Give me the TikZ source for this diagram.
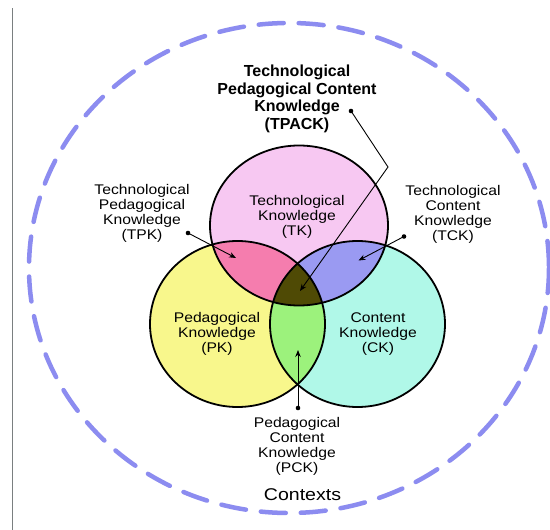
\documentclass[tikz,border=0pt]{standalone}
\usepackage{fontspec}
\setmainfont{Liberation Sans}
\usetikzlibrary{arrows.meta}
\definecolor{tkcol}{HTML}{F7C8F2}
\definecolor{pkcol}{HTML}{F8F78C}
\definecolor{ckcol}{HTML}{B0F8E8}
\definecolor{tpkcol}{HTML}{F57DAE}
\definecolor{tckcol}{HTML}{9A9AF2}
\definecolor{pckcol}{HTML}{9CF27C}
\definecolor{tpackcol}{HTML}{4F4A05}
\definecolor{ctxcol}{HTML}{8C8CF0}
\definecolor{framecol}{HTML}{7A7F80}
\begin{document}
\begin{tikzpicture}[x=1pt,y=-1pt,
  lbl/.style={font=\fontsize{14}{15}\selectfont, align=center, xscale=1.12, inner sep=0pt},
  ttl/.style={font=\fontsize{16}{17.5}\selectfont\bfseries, align=center, inner sep=0pt},
  ctxlbl/.style={font=\fontsize{17}{20}\selectfont, xscale=1.15, inner sep=0pt, anchor=base},
  ring/.style={line width=1.8pt},
  conn/.style={line width=0.9pt, -{Stealth[length=7pt,width=5.5pt]}},
  dotmark/.style={fill=black},
  tkshape/.style={x radius=89, y radius=80},
  ckshape/.style={x radius=87.5, y radius=83}
]
\useasboundingbox (0,0) rectangle (550,530);
\fill[white] (0,0) rectangle (550,530);

% frame line at left
\draw[framecol, line width=1pt] (12.5,8) -- (12.5,530);

% centres
\coordinate (ctx) at (289,268);
\coordinate (tk) at (299,225.5);
\coordinate (pk) at (237.5,324);
\coordinate (ck) at (357.5,324);

% contexts dashed ring
\draw[ctxcol, line width=4.5pt, line cap=round, dash pattern=on 25pt off 15pt]
  (ctx) ellipse [x radius=260, y radius=245];

% base fills
\fill[tkcol] (tk) ellipse [tkshape];
\fill[pkcol] (pk) ellipse [ckshape];
\fill[ckcol] (ck) ellipse [ckshape];
% pairwise overlaps
\begin{scope}
  \clip (tk) ellipse [tkshape];
  \fill[tpkcol] (pk) ellipse [ckshape];
  \fill[tckcol] (ck) ellipse [ckshape];
\end{scope}
\begin{scope}
  \clip (pk) ellipse [ckshape];
  \fill[pckcol] (ck) ellipse [ckshape];
\end{scope}
% triple overlap
\begin{scope}
  \clip (tk) ellipse [tkshape];
  \clip (pk) ellipse [ckshape];
  \fill[tpackcol] (ck) ellipse [ckshape];
\end{scope}
% outlines
\draw[ring] (tk) ellipse [tkshape];
\draw[ring] (pk) ellipse [ckshape];
\draw[ring] (ck) ellipse [ckshape];

% circle texts
\node[lbl] (tktext) at (297,216.5) {Technological\\Knowledge\\(TK)};
\node[lbl] (pktext) at (217,334) {Pedagogical\\Knowledge\\(PK)};
\node[lbl] (cktext) at (378,334) {Content\\Knowledge\\(CK)};

% outside labels
\node[ttl] (tpacklbl) at (297,98.7) {Technological\\Pedagogical Content\\Knowledge\\(TPACK)};
\node[lbl] (tpklbl) at (142,213.8) {Technological\\Pedagogical\\Knowledge\\(TPK)};
\node[lbl] (tcklbl) at (453,214.5) {Technological\\Content\\Knowledge\\(TCK)};
\node[lbl] (pcklbl) at (297,446.5) {Pedagogical\\Content\\Knowledge\\(PCK)};
\node[ctxlbl] (ctxtext) at (302.5,500) {Contexts};

% connector points
\coordinate (tpdot) at (351,111);
\coordinate (tpbend) at (388,167);
\coordinate (tptip) at (300,291);
\coordinate (tpkdot) at (188,233);
\coordinate (tpktip) at (236,258);
\coordinate (tckdot) at (404,236.5);
\coordinate (tcktip) at (358.5,260.5);
\coordinate (pckdot) at (298,408);
\coordinate (pcktip) at (298,350);

\draw[conn] (tpdot) -- (tpbend) -- (tptip);
\draw[conn] (tpkdot) -- (tpktip);
\draw[conn] (tckdot) -- (tcktip);
\draw[conn] (pckdot) -- (pcktip);
\fill[dotmark] (tpdot) circle (2.3);
\fill[dotmark] (tpkdot) circle (2.3);
\fill[dotmark] (tckdot) circle (2.3);
\fill[dotmark] (pckdot) circle (2.3);
\end{tikzpicture}
\end{document}
